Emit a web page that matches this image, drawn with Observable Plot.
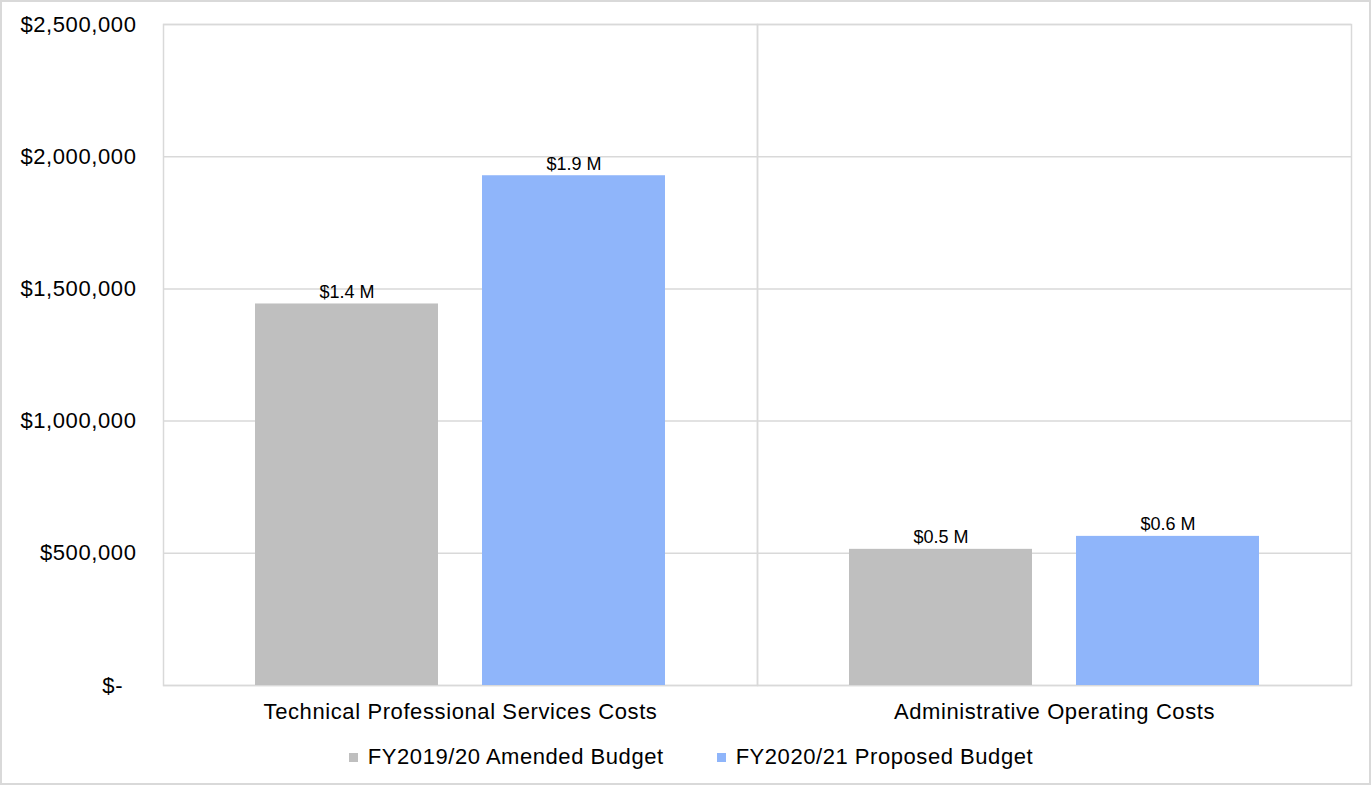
<!DOCTYPE html>
<html>
<head>
<meta charset="utf-8">
<script src="https://cdn.jsdelivr.net/npm/d3@7"></script>
<script src="https://cdn.jsdelivr.net/npm/@observablehq/plot@0.6"></script>
<style>
  html, body { margin: 0; padding: 0; background: #fff; }
  #wrap { position: relative; width: 1371px; height: 785px; overflow: hidden; font-family: "Liberation Sans", Arial, sans-serif; }
  #border { position: absolute; left: 0; top: 0; width: 1371px; height: 785px; box-sizing: border-box; border: 2px solid #d9d9d9; pointer-events: none; }
  #legend { position: absolute; left: 0; top: 735px; width: 1371px; height: 44px; display: flex; justify-content: center; align-items: center; gap: 53px; font-size: 22px; letter-spacing: 0.55px; color: #000; padding-left: 11px; box-sizing: border-box; }
  .item { display: flex; align-items: center; gap: 10px; }
  .sw { width: 9px; height: 9px; display: inline-block; }
</style>
</head>
<body>
<div id="wrap">
  <div id="chart"></div>
  <div id="legend"></div>
  <div id="border"></div>
</div>
<script>
const categories = ["Technical Professional Services Costs", "Administrative Operating Costs"];
const series = ["FY2019/20 Amended Budget", "FY2020/21 Proposed Budget"];
const amended = [1443000, 515000];
const proposed = [1928000, 564000];
const colors = ["#bfbfbf", "#8fb5fa"];
const yTicks = [0, 500000, 1000000, 1500000, 2000000, 2500000];

const rows = [];
categories.forEach((c, i) => {
  rows.push({category: c, series: series[0], value: amended[i]});
  rows.push({category: c, series: series[1], value: proposed[i]});
});

const fmtTick = d => d === 0 ? "$-\u00a0\u00a0" : "$" + d3.format(",")(d);
const fmtLabel = d => "$" + (d.value / 1e6).toFixed(1) + " M";

const chart = Plot.plot({
  width: 1371,
  height: 735,
  marginLeft: 163,
  marginRight: 20,
  marginTop: 24,
  marginBottom: 50,
  style: {fontFamily: "'Liberation Sans', Arial, sans-serif", color: "#000", background: "transparent"},
  fx: {domain: categories, padding: 0, label: null},
  x: {domain: series, paddingInner: 0.194, paddingOuter: 0.405, axis: null},
  y: {domain: [0, 2500000]},
  color: {domain: series, range: colors},
  marks: [
    Plot.gridY(yTicks, {stroke: "#d9d9d9", strokeOpacity: 1, strokeWidth: 1.5}),
    Plot.frame({stroke: "#d9d9d9", strokeWidth: 1.5}),
    Plot.barY(rows, {fx: "category", x: "series", y: "value", fill: "series"}),
    Plot.text(rows, {fx: "category", x: "series", y: "value", text: fmtLabel, dy: -12, fontSize: 18, fill: "#000"}),
    Plot.axisY(yTicks, {tickSize: 0, tickPadding: 27, tickFormat: fmtTick, fontSize: 22, label: null}),
    Plot.axisFx({anchor: "bottom", tickSize: 0, tickPadding: 18, fontSize: 22, label: null})
  ]
});
d3.select(chart)
  .selectAll('g[aria-label="fx-axis tick label"] text, g[aria-label="y-axis tick label"] text')
  .style("letter-spacing", "0.6px");
document.getElementById("chart").appendChild(chart);

const legend = document.getElementById("legend");
series.forEach((s, i) => {
  const item = document.createElement("div");
  item.className = "item";
  const sw = document.createElement("span");
  sw.className = "sw";
  sw.style.background = colors[i];
  const t = document.createElement("span");
  t.textContent = s;
  item.appendChild(sw);
  item.appendChild(t);
  legend.appendChild(item);
});
</script>
</body>
</html>
